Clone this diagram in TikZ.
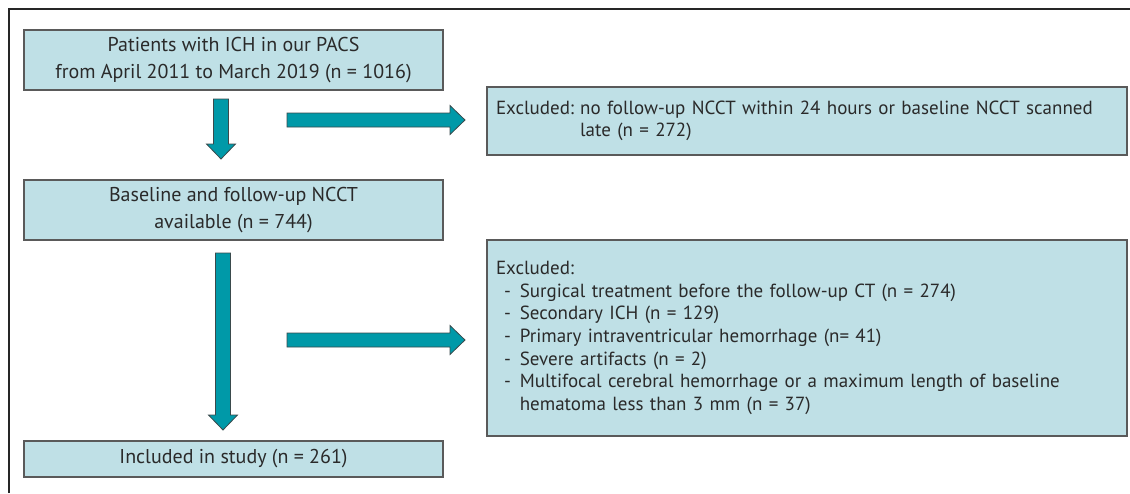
\documentclass[tikz,border=0pt]{standalone}
\usepackage{fontspec}
\setmainfont{PT Sans}
\usetikzlibrary{calc}
\definecolor{boxfill}{HTML}{BFE0E6}
\definecolor{boxline}{HTML}{5A5A5A}
\definecolor{arrfill}{HTML}{0099A8}
\definecolor{arrline}{HTML}{3A4A4C}
\definecolor{txt}{HTML}{2A2A2A}
\tikzset{
  box/.style={draw=boxline, fill=boxfill, line width=1.2pt, inner sep=0pt, text=txt},
  lbox/.style={box, minimum width=419pt, align=center, font=\fontsize{20}{27}\selectfont},
  rbox/.style={box, minimum width=640pt, text width=622pt, align=left, font=\fontsize{19}{22.7}\selectfont},
  arr/.style={draw=arrline, fill=arrfill, line width=0.8pt, line join=miter},
  frame/.style={draw=black!85, line width=1.3pt}
}
\begin{document}
\begin{tikzpicture}[x=1pt,y=-1pt]
\useasboundingbox (0,0) rectangle (1130,493);
\draw[frame] (9,493) -- (9,9) -- (1130,9);

\node[lbox, minimum height=60pt] (b1) at (233.5,60) {Patients with ICH in our PACS\\from April 2011 to March 2019 (n = 1016)};
\node[lbox, minimum height=60pt] (b3) at (233.5,210) {Baseline and follow-up NCCT\\available (n = 744)};
\node[lbox, minimum height=36pt] (b5) at (233.5,459) {Included in study (n = 261)};

\node[rbox, minimum height=68pt] (b2) at (807,121) {\begin{tabular}{@{}l@{\hspace{6pt}}l@{}}Excluded: & no follow-up NCCT within 24 hours or baseline NCCT scanned\\ & late (n = 272)\end{tabular}};
\node[rbox, minimum height=196pt] (b4) at (807,338) {\begin{tabular}{@{\hspace{8pt}}l@{\hspace{9pt}}l@{}}
\multicolumn{2}{@{}l@{}}{Excluded:}\\
- & Surgical treatment before the follow-up CT (n = 274)\\
- & Secondary ICH (n = 129)\\
- & Primary intraventricular hemorrhage (n= 41)\\
- & Severe artifacts (n = 2)\\
- & Multifocal cerebral hemorrhage or a maximum length of baseline\\
  & hematoma less than 3 mm (n = 37)
\end{tabular}};

% down arrows
\coordinate (d1s) at (221,99);  \coordinate (d1t) at (221,159);
\coordinate (d2s) at (223,253); \coordinate (d2t) at (223,430);
\foreach \s/\t in {d1s/d1t, d2s/d2t}{
  \draw[arr] ($(\s)+(-7.5,0)$) -- ($(\s)+(7.5,0)$) -- ($(\t)+(7.5,-15)$) -- ($(\t)+(14.5,-15)$) -- (\t) -- ($(\t)+(-14.5,-15)$) -- ($(\t)+(-7.5,-15)$) -- cycle;
}
% right arrows
\coordinate (r1s) at (287,120); \coordinate (r1t) at (465,120);
\coordinate (r2s) at (287,340); \coordinate (r2t) at (465,340);
\foreach \s/\t in {r1s/r1t, r2s/r2t}{
  \draw[arr] ($(\s)+(0,-7)$) -- ($(\t)+(-15,-7)$) -- ($(\t)+(-15,-14.5)$) -- (\t) -- ($(\t)+(-15,14.5)$) -- ($(\t)+(-15,7)$) -- ($(\s)+(0,7)$) -- cycle;
}
\end{tikzpicture}
\end{document}
